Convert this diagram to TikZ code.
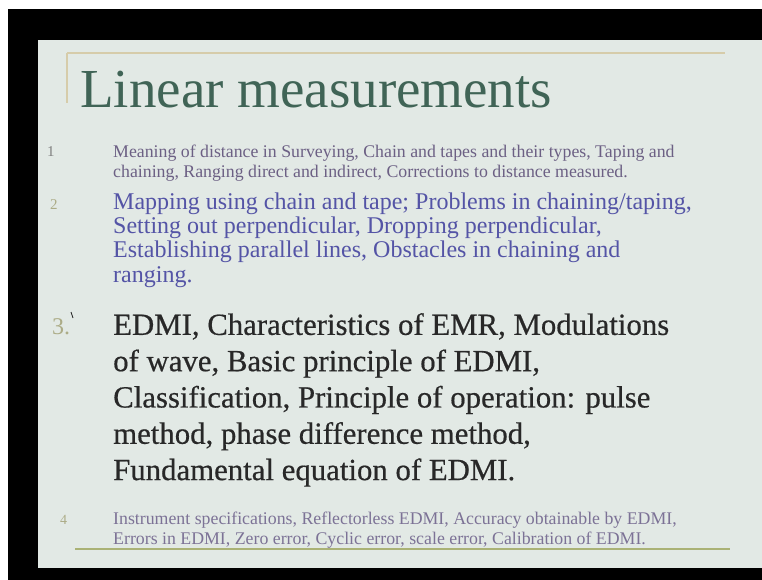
\documentclass[tikz,border=0pt]{standalone}
\usepackage{fontspec}
\setmainfont{Liberation Serif}
\newfontfamily\heavyserif[FakeBold=0.5]{Liberation Serif}
\usepackage{xcolor}
\usetikzlibrary{positioning}

\definecolor{slidebg}{RGB}{226,233,229}
\definecolor{titlegreen}{RGB}{64,100,86}
\definecolor{itemone}{RGB}{108,96,132}
\definecolor{itemtwo}{RGB}{84,84,166}
\definecolor{itemthree}{RGB}{40,40,40}
\definecolor{itemfour}{RGB}{124,114,150}
\definecolor{numpale}{RGB}{172,172,135}
\definecolor{tanline}{RGB}{214,204,170}
\definecolor{oliveline}{RGB}{170,178,118}

\begin{document}
\begin{tikzpicture}[x=1pt, y=-1pt]
        \tikzstyle{title_style} = [anchor=base west, inner sep=0pt, text=titlegreen, font=\fontsize{55}{60}\selectfont]
        \tikzstyle{small_item} = [anchor=north west, inner sep=0pt, align=left, font=\fontsize{17.8}{20}\selectfont]
        \tikzstyle{mid_item} = [anchor=north west, inner sep=0pt, align=left, text=itemtwo, font=\fontsize{24}{24.3}\selectfont]
        \tikzstyle{big_item} = [anchor=north west, inner sep=0pt, align=left, text=itemthree, font=\heavyserif\fontsize{30.8}{36.3}\selectfont]
        \tikzstyle{num_style} = [anchor=base west, inner sep=0pt, text=numpale]

        % Screen frame and slide
        \useasboundingbox (0,0) rectangle (762,580);
        \fill[white] (0,0) rectangle (762,580);
        \fill[black] (8,9) rectangle (762,580);
        \fill[slidebg] (38,40) rectangle (762,568);

        % Slide rules
        \draw[tanline, line width=2.5pt] (67,53) -- (725,53);
        \draw[tanline, line width=1.5pt] (67,53) -- (67,103);
        \draw[oliveline, line width=2pt] (75,549) -- (730,549);

        % Title
        \node (title) [title_style] at (80,108) {Linear measurements};

        % Item 1
        \node (num1) [num_style, text=gray, font=\fontsize{15}{15}\selectfont] at (47,157) {1};
        \node (item1) [small_item, text=itemone] at (113,144.8) {Meaning of distance in Surveying, Chain and tapes and their types, Taping and\\chaining, Ranging direct and indirect, Corrections to distance measured.};

        % Item 2
        \node (num2) [num_style, font=\fontsize{15}{15}\selectfont] at (50,209) {2};
        \node (item2) [mid_item] at (113,192.3) {Mapping using chain and tape; Problems in chaining/taping,\\Setting out perpendicular, Dropping perpendicular,\\Establishing parallel lines, Obstacles in chaining and\\ranging.};

        % Item 3
        \node (num3) [num_style, font=\fontsize{24}{24}\selectfont] at (52,334) {3.};
        \draw[itemthree, line width=0.8pt] (71,312) -- (73,318);
        \node (item3) [big_item] at (113,313) {EDMI, Characteristics of EMR, Modulations\\of wave, Basic principle of EDMI,\\Classification, Principle of operation: pulse\\method, phase difference method,\\Fundamental equation of EDMI.};

        % Item 4
        \node (num4) [num_style, font=\fontsize{14}{14}\selectfont] at (60,524) {4};
        \node (item4) [small_item, text=itemfour] at (113,511.8) {Instrument specifications, Reflectorless EDMI, Accuracy obtainable by EDMI,\\Errors in EDMI, Zero error, Cyclic error, scale error, Calibration of EDMI.};
\end{tikzpicture}
\end{document}
